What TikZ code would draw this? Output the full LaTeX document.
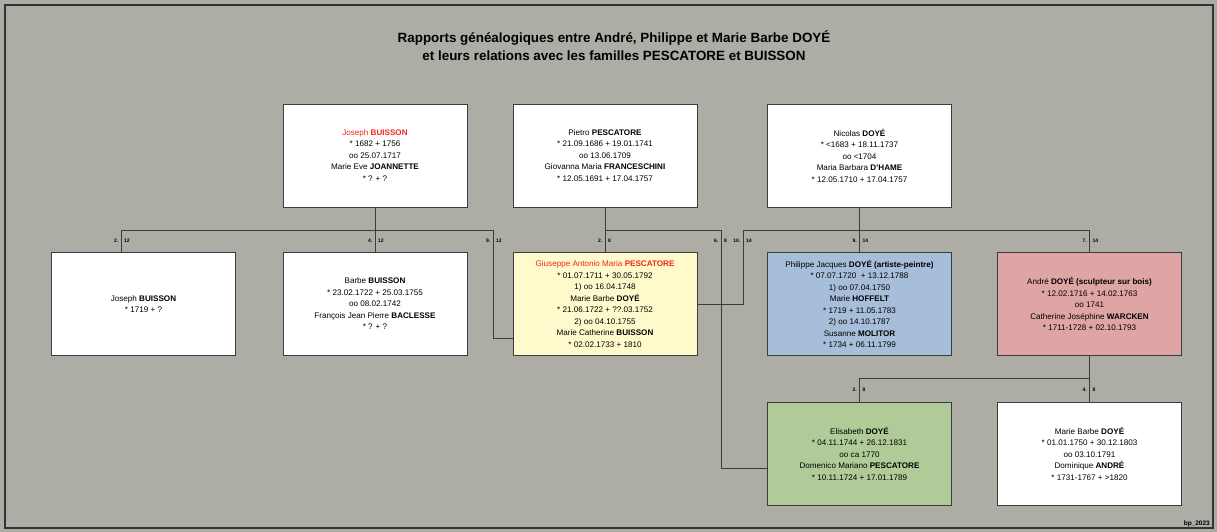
\documentclass[tikz,border=0pt]{standalone}
\usepackage{fontspec}
\setmainfont{Liberation Sans}
\usetikzlibrary{positioning}

\definecolor{bggray}{RGB}{173,173,165}
\definecolor{boxline}{RGB}{60,60,60}
\definecolor{redname}{RGB}{238,40,28}
\definecolor{yellowbox}{RGB}{255,250,204}
\definecolor{bluebox}{RGB}{166,190,217}
\definecolor{pinkbox}{RGB}{223,164,164}
\definecolor{greenbox}{RGB}{177,203,152}

\tikzset{
  person/.style={draw=boxline, line width=0.9pt, minimum width=184pt, minimum height=103pt,
    inner sep=0pt, align=center, font=\fontsize{8.1}{11.5}\selectfont},
  famline/.style={draw=boxline, line width=0.8pt},
  gennum/.style={inner sep=0pt, font=\bfseries\fontsize{5}{6}\selectfont},
}

\begin{document}
\begin{tikzpicture}[x=1pt,y=-1pt]
\useasboundingbox (0,0) rectangle (1217,532);
\fill[bggray] (0,0) rectangle (1217,532);
\draw[line width=1.5pt, draw=black!80] (5,5) rectangle (1213,528);

\node[font=\bfseries\fontsize{13.4}{18}\selectfont, align=center] (title) at (614,46)
  {Rapports généalogiques entre André, Philippe et Marie Barbe DOYÉ\\et leurs relations avec les familles PESCATORE et BUISSON};

% parents
\node[person,fill=white] (jb) at (375,155.5) {\textcolor{redname}{Joseph \textbf{BUISSON}}\\* 1682 + 1756\\oo 25.07.1717\\Marie Eve \textbf{JOANNETTE}\\* ? + ?};
\node[person,fill=white] (pp) at (605,155.5) {Pietro \textbf{PESCATORE}\\* 21.09.1686 + 19.01.1741\\oo 13.06.1709\\Giovanna Maria \textbf{FRANCESCHINI}\\* 12.05.1691 + 17.04.1757};
\node[person,fill=white] (nd) at (859.5,155.5) {Nicolas \textbf{DOYÉ}\\* <1683 + 18.11.1737\\oo <1704\\Maria Barbara \textbf{D'HAME}\\* 12.05.1710 + 17.04.1757};

% children
\node[person,fill=white] (jbj) at (143.5,304) {Joseph \textbf{BUISSON}\\* 1719 + ?};
\node[person,fill=white] (bb) at (375,304) {Barbe \textbf{BUISSON}\\* 23.02.1722 + 25.03.1755\\oo 08.02.1742\\François Jean Pierre \textbf{BACLESSE}\\* ? + ?};
\node[person,fill=yellowbox] (gp) at (605,304) {\textcolor{redname}{Giuseppe Antonio Maria \textbf{PESCATORE}}\\* 01.07.1711 + 30.05.1792\\1) oo 16.04.1748\\Marie Barbe \textbf{DOYÉ}\\* 21.06.1722 + ??.03.1752\\2) oo 04.10.1755\\Marie Catherine \textbf{BUISSON}\\* 02.02.1733 + 1810};
\node[person,fill=bluebox] (pj) at (859.5,304) {Philippe Jacques \textbf{DOYÉ (artiste-peintre)}\\* 07.07.1720 \ + 13.12.1788\\1) oo 07.04.1750\\Marie \textbf{HOFFELT}\\* 1719 + 11.05.1783\\2) oo 14.10.1787\\Susanne \textbf{MOLITOR}\\* 1734 + 06.11.1799};
\node[person,fill=pinkbox] (ad) at (1089.5,304) {André \textbf{DOYÉ (sculpteur sur bois)}\\* 12.02.1716 + 14.02.1763\\oo 1741\\Catherine Joséphine \textbf{WARCKEN}\\* 1711-1728 + 02.10.1793};

% grandchildren
\node[person,fill=greenbox] (ed) at (859.5,453.5) {Elisabeth \textbf{DOYÉ}\\* 04.11.1744 + 26.12.1831\\oo ca 1770\\Domenico Mariano \textbf{PESCATORE}\\* 10.11.1724 + 17.01.1789};
\node[person,fill=white] (mb) at (1089.5,453.5) {Marie Barbe \textbf{DOYÉ}\\* 01.01.1750 + 30.12.1803\\oo 03.10.1791\\Dominique \textbf{ANDRÉ}\\* 1731-1767 + >1820};

% Buisson
\coordinate (bl) at (121,230);
\coordinate (br) at (493,230);
\draw[famline] (jb.south) -- (jb.south |- bl);
\draw[famline] (jbj.north -| bl) -- (bl) -- (br) |- ([yshift=-34pt]gp.west);
\draw[famline] (bb.north) -- (bb.north |- bl);

% Pescatore
\coordinate (pr) at (721,230);
\draw[famline] (pp.south) -- (gp.north);
\draw[famline] (gp.north |- pr) -- (pr) |- ([yshift=-14.5pt]ed.west);

% Doye
\coordinate (dl) at (743,230);
\draw[famline] (nd.south) -- (pj.north);
\draw[famline] (gp.east) -| (dl) -- (ad.north |- dl) -- (ad.north);

% Andre
\coordinate (al) at (0,378);
\draw[famline] (ad.south) -- (mb.north);
\draw[famline] (ed.north) -- (ed.north |- al) -- (ad.south |- al);

\foreach \x/\y/\a/\b [count=\i] in {121/241/2./12, 375/241/4./12, 493/241/9./12,
    605/241/2./8, 721/241/6./8, 743/241/10./14, 859.5/241/9./14, 1089.5/241/7./14,
    859.5/390/2./8, 1089.5/390/4./8}
{
  \node[gennum,anchor=east] (nl\i) at (\x-2.5,\y) {\a};
  \node[gennum,anchor=west] (nr\i) at (\x+3,\y) {\b};
}

\node[font=\bfseries\fontsize{6.5}{8}\selectfont, anchor=east, inner sep=0pt] (sig) at (1210,524) {bp\_2023};
\end{tikzpicture}
\end{document}
